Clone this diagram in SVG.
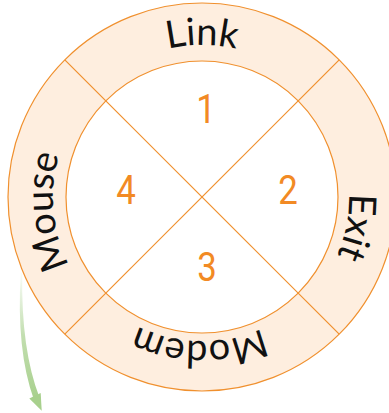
<svg xmlns="http://www.w3.org/2000/svg" width="389" height="413" viewBox="0 0 389 413">
<style>
.ring{fill:#FEEEDF;stroke:#F0902E;stroke-width:1.2}
.inner{fill:#FFFFFF;stroke:#F0902E;stroke-width:1.2}
.div{stroke:#F0902E;stroke-width:1.2;fill:none}
.lbl{font-family:Lato,"Open Sans",sans-serif;font-size:38px;fill:#111111}
.num{font-family:Roboto,"Liberation Sans",sans-serif;font-size:41px;fill:#F28A24;text-anchor:middle}
</style>
<defs>
<path id="pLink" d="M52.3,170.6 A152,152 0 0 1 351.7,170.6"/>
<path id="pExit" d="M277.7,71.0 A147,147 0 0 1 225.0,342.2"/>
<path id="pModem" d="M336.4,248.6 A144,144 0 0 1 65.8,243.9"/>
<path id="pMouse" d="M164.4,341.2 A149,149 0 0 1 138.1,62.4"/>
<linearGradient id="gArrow" gradientUnits="userSpaceOnUse" x1="0" y1="272" x2="0" y2="400">
<stop offset="0" stop-color="#A8D08D" stop-opacity="0.05"/>
<stop offset="0.5" stop-color="#A8D08D" stop-opacity="0.7"/>
<stop offset="1" stop-color="#A8D08D"/>
</linearGradient>
</defs>
<g id="ring">
<circle class="ring" cx="202" cy="197" r="194"/>
<circle class="inner" cx="202" cy="197" r="136"/>
<line class="div" x1="64.8" y1="59.8" x2="339.2" y2="334.2"/>
<line class="div" x1="339.2" y1="59.8" x2="64.8" y2="334.2"/>
</g>
<g id="link"><text class="lbl"><textPath href="#pLink" startOffset="50%" text-anchor="middle">Link</textPath></text></g>
<g id="exit"><text class="lbl"><textPath href="#pExit" startOffset="50%" text-anchor="middle">Exit</textPath></text></g>
<g id="modem"><text class="lbl"><textPath href="#pModem" startOffset="50%" text-anchor="middle">Modem</textPath></text></g>
<g id="mouse"><text class="lbl"><textPath href="#pMouse" startOffset="50%" text-anchor="middle">Mouse</textPath></text></g>
<g id="q1"><text class="num" transform="translate(206,123) scale(0.85,1)">1</text></g>
<g id="q2"><text class="num" transform="translate(288,204) scale(0.85,1)">2</text></g>
<g id="q3"><text class="num" transform="translate(207,281) scale(0.85,1)">3</text></g>
<g id="q4"><text class="num" transform="translate(126,204) scale(0.85,1)">4</text></g>
<g id="connectors">
<path d="M20.8,273 Q16,350 34,400 L39.5,397.5 Q21,350 22.2,273 Z" fill="url(#gArrow)"/>
<polygon points="29.3,398.5 41.7,410.7 40.7,393" fill="#A8D08D"/>
</g>
</svg>
